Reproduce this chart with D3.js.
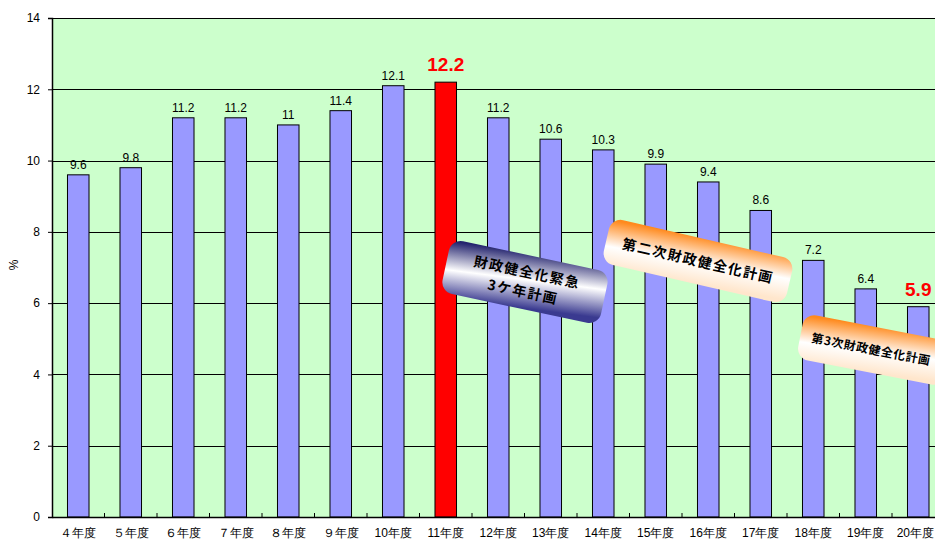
<!DOCTYPE html>
<html>
<head>
<meta charset="utf-8">
<script src="https://cdn.jsdelivr.net/npm/d3@7"></script>
<style>
  html, body { margin: 0; padding: 0; background: #fff; }
  svg { display: block; font-family: "Noto Sans CJK JP", "Noto Sans", sans-serif; }
</style>
</head>
<body>
<svg id="chart" width="935" height="540"></svg>
<script>
// 年度ごとの比率（%）
const categories = ["４年度","５年度","６年度","７年度","８年度","９年度","10年度","11年度","12年度",
                    "13年度","14年度","15年度","16年度","17年度","18年度","19年度","20年度"];
const values = [9.6, 9.8, 11.2, 11.2, 11, 11.4, 12.1, 12.2, 11.2, 10.6, 10.3, 9.9, 9.4, 8.6, 7.2, 6.4, 5.9];
const valueLabels = ["9.6","9.8","11.2","11.2","11","11.4","12.1","12.2","11.2","10.6","10.3","9.9","9.4","8.6","7.2","6.4","5.9"];
const highlightBar = ["11年度"];          // 赤で塗る棒
const emphasisLabel = ["11年度", "20年度"]; // 大きな赤字の値ラベル
const yTicks = [0, 2, 4, 6, 8, 10, 12, 14];
const yLabel = "%";

// 計画期間の吹き出し
const plans = [
  { lines: ["財政健全化緊急", "3ケ年計画"], cx: 525, cy: 282, w: 162, h: 54, angle: 12, fill: "gradBlue", size: 14, spacing: 1.5, dx: 0 },
  { lines: ["第二次財政健全化計画"], cx: 698, cy: 261, w: 188, h: 46, angle: 13, fill: "gradOrange", size: 14, spacing: 1.5, dx: 0 },
  { lines: ["第3次財政健全化計画"], cx: 874, cy: 350, w: 150, h: 46, angle: 11, fill: "gradOrange", size: 12, spacing: 0.6, dx: -3 }
];

const svg = d3.select("#chart");
const W = 935;
const margin = { left: 52, top: 18, bottom: 23 };
const plotW = 892.5;
const plotH = 540 - margin.top - margin.bottom;

const x = d3.scaleBand().domain(categories).range([margin.left, margin.left + plotW]).paddingInner(0.59).paddingOuter(0.295);
const y = d3.scaleLinear().domain([0, 14]).range([margin.top + plotH, margin.top]);

// グラデーション
const defs = svg.append("defs");
const gb = defs.append("linearGradient").attr("id", "gradBlue")
  .attr("x1", 0.2).attr("y1", 0).attr("x2", 0.45).attr("y2", 1);
gb.append("stop").attr("offset", 0).attr("stop-color", "#24246e");
gb.append("stop").attr("offset", 0.5).attr("stop-color", "#ffffff");
gb.append("stop").attr("offset", 1).attr("stop-color", "#3a3a90");
const go = defs.append("linearGradient").attr("id", "gradOrange")
  .attr("x1", 0.3).attr("y1", 0).attr("x2", 0.5).attr("y2", 1);
go.append("stop").attr("offset", 0).attr("stop-color", "#ff8a1e");
go.append("stop").attr("offset", 0.55).attr("stop-color", "#ffffff");
go.append("stop").attr("offset", 1).attr("stop-color", "#ffe6cc");

// 描画領域の背景
svg.append("rect")
  .attr("x", margin.left).attr("y", margin.top)
  .attr("width", plotW).attr("height", plotH)
  .attr("fill", "#ccffcc");

// 目盛線
svg.append("g").selectAll("line").data(yTicks.filter(d => d > 0)).join("line")
  .attr("x1", margin.left).attr("x2", margin.left + plotW)
  .attr("y1", d => Math.round(y(d)) + 0.5).attr("y2", d => Math.round(y(d)) + 0.5)
  .attr("stroke", "#000").attr("stroke-width", 1);

// 棒
svg.append("g").selectAll("rect").data(categories).join("rect")
  .attr("x", d => x(d))
  .attr("y", (d, i) => y(values[i]))
  .attr("width", x.bandwidth())
  .attr("height", (d, i) => y(0) - y(values[i]))
  .attr("fill", d => highlightBar.includes(d) ? "#ff0000" : "#9999ff")
  .attr("stroke", "#000").attr("stroke-width", 1);

// 値ラベル
svg.append("g").selectAll("text").data(categories).join("text")
  .attr("x", d => x(d) + x.bandwidth() / 2)
  .attr("y", (d, i) => y(values[i]) - (emphasisLabel.includes(d) ? 11 : 6))
  .attr("text-anchor", "middle")
  .attr("font-size", d => emphasisLabel.includes(d) ? 19 : 12)
  .attr("font-weight", d => emphasisLabel.includes(d) ? "bold" : "normal")
  .attr("font-family", "Arial, 'Liberation Sans', sans-serif")
  .attr("fill", d => emphasisLabel.includes(d) ? "#ff0000" : "#000")
  .text((d, i) => valueLabels[i]);

// Y軸
const yAxis = d3.axisLeft(y).tickValues(yTicks).tickSize(4).tickPadding(8).tickFormat(d3.format("d"));
const gy = svg.append("g").attr("transform", `translate(${margin.left},0)`).call(yAxis);
gy.select(".domain").attr("stroke", "#000").attr("stroke-width", 1.5);
gy.selectAll("text").attr("font-size", 12).attr("font-family", "Arial, 'Liberation Sans', sans-serif").attr("fill", "#000");

// X軸（区切り目盛は内側）
const xAxis = d3.axisBottom(x).tickSize(0).tickPadding(11);
const gx = svg.append("g").attr("transform", `translate(0,${y(0)})`).call(xAxis);
gx.select(".domain").attr("stroke", "#000").attr("stroke-width", 1.5);
gx.selectAll("text").attr("font-size", 12).attr("fill", "#000");
// 右端のラベルが画面からはみ出さないよう寄せる
gx.selectAll(".tick").each(function() {
  const t = d3.select(this).select("text");
  const b = this.getBBox();
  const m = this.getCTM();
  const right = m.e + b.x + b.width;
  if (right > W - 1) t.attr("dx", (W - 1) - right);
});
const step = x.step();
svg.append("g").selectAll("line").data(d3.range(1, categories.length)).join("line")
  .attr("x1", d => margin.left + d * step).attr("x2", d => margin.left + d * step)
  .attr("y1", y(0)).attr("y2", y(0) - 4)
  .attr("stroke", "#000");

// 軸ラベル
svg.append("text")
  .attr("transform", `translate(18,265) rotate(-90)`)
  .attr("text-anchor", "middle").attr("font-size", 12)
  .attr("font-family", "Arial, 'Liberation Sans', sans-serif")
  .text(yLabel);

// 計画期間の吹き出し
const pg = svg.append("g").selectAll("g").data(plans).join("g")
  .attr("transform", d => `translate(${d.cx},${d.cy}) rotate(${d.angle})`);
pg.append("rect")
  .attr("x", d => -d.w / 2).attr("y", d => -d.h / 2)
  .attr("width", d => d.w).attr("height", d => d.h)
  .attr("rx", 12).attr("ry", 12)
  .attr("fill", d => `url(#${d.fill})`);
pg.each(function(d) {
  const g = d3.select(this);
  const n = d.lines.length;
  d.lines.forEach((t, i) => {
    g.append("text")
      .attr("x", d.dx)
      .attr("y", (i - (n - 1) / 2) * (d.size + 6) + d.size * 0.36)
      .attr("text-anchor", "middle")
      .attr("font-size", d.size)
      .attr("font-weight", "bold")
      .attr("letter-spacing", d.spacing)
      .attr("fill", "#000")
      .text(t);
  });
});
</script>
</body>
</html>
